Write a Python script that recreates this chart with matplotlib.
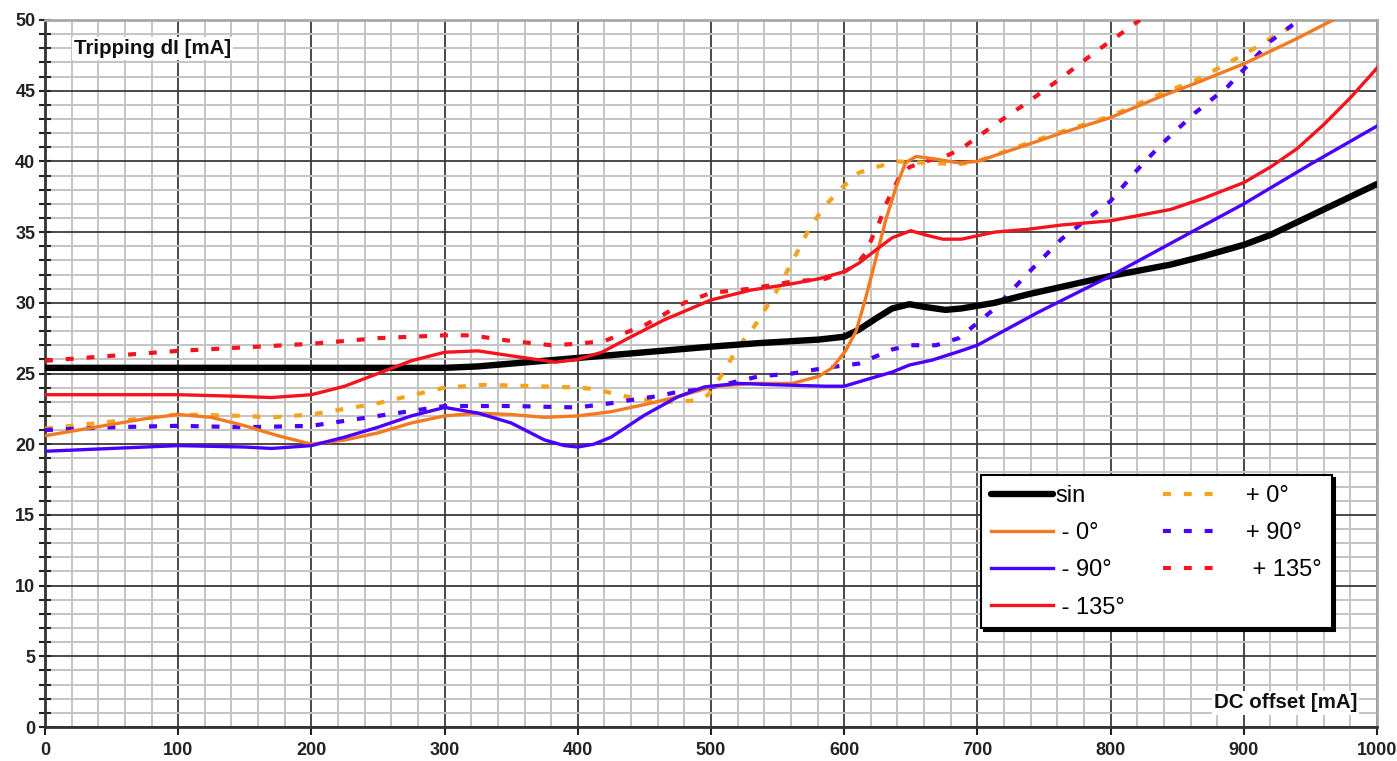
import matplotlib
matplotlib.use('Agg')
import matplotlib.pyplot as plt
from matplotlib.ticker import MultipleLocator

plt.rcParams['font.family'] = ['Liberation Sans', 'DejaVu Sans']

# ---- data ----
sin_x = [0, 100, 200, 300, 325, 350, 400, 450, 500, 536, 581, 600, 611, 624, 636, 649, 661, 676,
         688, 713, 738, 800, 845, 870, 900, 920, 940, 960, 980, 1000]
sin_y = [25.4, 25.4, 25.4, 25.4, 25.5, 25.7, 26.1, 26.5, 26.9, 27.15, 27.4, 27.6, 28.1, 28.9,
         29.6, 29.9, 29.7, 29.5, 29.6, 30.0, 30.6, 31.9, 32.7, 33.3, 34.1, 34.8, 35.7, 36.6,
         37.5, 38.4]

m0_x = [0, 25, 50, 75, 100, 125, 150, 175, 200, 225, 250, 275, 300, 325, 350, 375, 400, 425,
        450, 475, 500, 530, 561, 581, 591, 601, 609, 616, 624, 631, 639, 646, 654, 666, 686, 700,
        738, 763, 800, 838, 863, 900, 938, 967]
m0_y = [20.6, 21.0, 21.4, 21.8, 22.1, 21.9, 21.3, 20.6, 20.0, 20.3, 20.8, 21.5, 22.0, 22.2,
        22.1, 21.9, 22.0, 22.3, 22.8, 23.35, 24.05, 24.3, 24.3, 24.8, 25.4, 26.6, 28.0, 30.3,
        33.2, 35.8, 38.2, 39.9, 40.35, 40.2, 39.9, 40.0, 41.2, 42.0, 43.1, 44.6, 45.5, 46.9,
        48.6, 50.0]

m90_x = [0, 50, 100, 150, 170, 200, 225, 250, 275, 300, 325, 350, 375, 390, 400, 412, 425, 450,
         475, 495, 520, 550, 586, 600, 616, 636, 649, 666, 686, 700, 745, 800, 845, 900, 950, 1000]
m90_y = [19.5, 19.7, 19.9, 19.8, 19.7, 19.9, 20.5, 21.2, 22.0, 22.6, 22.2, 21.5, 20.3, 19.9,
         19.8, 20.0, 20.5, 22.05, 23.35, 24.05, 24.3, 24.2, 24.1, 24.1, 24.55, 25.1, 25.6,
         25.95, 26.55, 27.0, 29.3, 31.9, 34.2, 37.0, 39.8, 42.5]

m135_x = [0, 50, 100, 140, 170, 200, 225, 250, 275, 300, 325, 350, 383, 400, 418, 438, 465, 500,
          530, 561, 581, 600, 611, 624, 636, 650, 661, 674, 688, 713, 738, 763, 800, 845, 870, 900,
          920, 940, 960, 980, 1000]
m135_y = [23.5, 23.5, 23.5, 23.4, 23.3, 23.5, 24.1, 25.0, 25.9, 26.5, 26.6, 26.25, 25.8, 26.0,
          26.5, 27.5, 28.8, 30.2, 30.9, 31.35, 31.7, 32.2, 32.8, 33.75, 34.6, 35.1, 34.8, 34.5,
          34.5, 35.0, 35.2, 35.5, 35.8, 36.6, 37.4, 38.5, 39.6, 40.9, 42.6, 44.5, 46.6]

p0_x = [0, 50, 100, 150, 170, 200, 250, 300, 330, 370, 400, 413, 435, 460, 475, 490, 498, 508,
        520, 533, 549, 561, 574, 586, 599, 611, 624, 640, 660, 686, 700, 738, 763, 800, 838, 863,
        895, 908, 920, 935, 945]
p0_y = [21.1, 21.6, 22.1, 22.0, 21.9, 22.1, 22.9, 24.0, 24.2, 24.1, 24.0, 23.9, 23.4, 23.0,
        23.0, 23.1, 23.5, 24.9, 26.8, 28.4, 30.8, 32.9, 35.3, 36.9, 38.2, 39.2, 39.6, 40.0, 39.9,
        39.8, 40.0, 41.3, 42.1, 43.2, 44.8, 45.7, 47.3, 48.0, 48.7, 49.5, 50.1]

p90_x = [0, 50, 100, 150, 200, 250, 300, 350, 400, 425, 445, 460, 475, 495, 536, 561, 586, 611,
         636, 649, 669, 686, 699, 713, 738, 763, 800, 818, 838, 863, 888, 900, 920, 943]
p90_y = [21.0, 21.2, 21.3, 21.2, 21.3, 22.0, 22.7, 22.7, 22.6, 22.9, 23.2, 23.4, 23.7, 23.9,
         24.8, 25.0, 25.4, 25.7, 26.7, 27.0, 27.0, 27.5, 28.5, 29.6, 32.1, 34.5, 37.2, 39.2, 41.2,
         43.4, 45.3, 46.5, 48.5, 50.1]

p135_x = [0, 100, 200, 250, 300, 320, 350, 380, 400, 420, 450, 480, 500, 530, 561, 586, 600, 609,
          616, 621, 626, 631, 636, 641, 649, 661, 676, 688, 713, 738, 763, 788, 822]
p135_y = [25.9, 26.6, 27.1, 27.5, 27.7, 27.7, 27.3, 27.0, 27.1, 27.3, 28.4, 30.0, 30.7, 31.0,
          31.5, 31.7, 32.2, 32.7, 33.5, 34.6, 35.6, 36.9, 37.9, 38.8, 39.6, 40.0, 40.35, 40.9,
          42.6, 44.2, 45.9, 47.7, 50.0]

labels = ['sin', ' - 0°', ' - 90°', ' - 135°', '   + 0°', '   + 90°', '    + 135°']
colors = ['#000000', '#F47A22', '#4A00FF', '#F5141E', '#F5A21E', '#4A00FF', '#F5141E']

x_ticks = list(range(0, 1001, 100))
y_ticks = list(range(0, 51, 5))

# ---- figure ----
fig = plt.figure(figsize=(13.97, 7.61), dpi=100)
ax = fig.add_axes([45 / 1397, 1 - 727 / 761, 1332 / 1397, 707 / 761])
ax.set_xlim(0, 1000)
ax.set_ylim(0, 50)

ax.xaxis.set_minor_locator(MultipleLocator(20))
ax.yaxis.set_minor_locator(MultipleLocator(1))
ax.set_xticks(x_ticks)
ax.set_yticks(y_ticks)

ax.grid(which='minor', color='#c4c4c4', linewidth=1.4)
ax.grid(which='major', color='#3a3a3a', linewidth=1.3)
ax.set_axisbelow(True)

ax.tick_params(axis='x', which='major', direction='out', length=6, width=1.5, pad=5,
               labelsize=13, colors='#222222')
ax.tick_params(axis='x', which='minor', length=0)
ax.tick_params(axis='y', which='both', direction='inout', length=8, width=1.5, pad=3,
               labelsize=13, colors='#222222')
for lab in ax.get_xticklabels() + ax.get_yticklabels():
    lab.set_fontweight('bold')

for side in ['left', 'bottom']:
    ax.spines[side].set_color('#333333')
    ax.spines[side].set_linewidth(2)
for side in ['top', 'right']:
    ax.spines[side].set_color('#a8a8a8')
    ax.spines[side].set_linewidth(2)

dash = (0, (1.9, 3.1))
h_sin, = ax.plot(sin_x, sin_y, color=colors[0], lw=4.6, solid_capstyle='round',
                 solid_joinstyle='round', zorder=5)
h_m0, = ax.plot(m0_x, m0_y, color=colors[1], lw=2.4, solid_joinstyle='round', zorder=6)
h_m90, = ax.plot(m90_x, m90_y, color=colors[2], lw=2.4, solid_joinstyle='round', zorder=6)
h_m135, = ax.plot(m135_x, m135_y, color=colors[3], lw=2.4, solid_joinstyle='round', zorder=6)
h_p0, = ax.plot(p0_x, p0_y, color=colors[4], lw=3.0, linestyle=dash, zorder=4)
h_p90, = ax.plot(p90_x, p90_y, color=colors[5], lw=3.0, linestyle=dash, zorder=4)
h_p135, = ax.plot(p135_x, p135_y, color=colors[6], lw=3.0, linestyle=dash, zorder=4)

handles = [h_sin, h_m0, h_m90, h_m135, h_p0, h_p90, h_p135]
leg = ax.legend(handles, labels, ncol=2, loc='upper left', bbox_to_anchor=(0.703, 0.356),
                borderaxespad=0, fontsize=17, frameon=True, fancybox=False,
                shadow={'color': 'black', 'alpha': 1.0}, handlelength=2.6, handletextpad=0.1,
                columnspacing=1.6, labelspacing=0.64, borderpad=0.42)
leg.get_frame().set_edgecolor('black')
leg.get_frame().set_linewidth(1.5)
leg.set_zorder(10)

ax.text(22, 48.0, 'Tripping dI [mA]', fontsize=14.8, fontweight='bold', color='#111111',
        ha='left', va='center', zorder=8,
        bbox=dict(facecolor='white', edgecolor='none', pad=1.5))
ax.text(985, 1.7, 'DC offset [mA]', fontsize=14.8, fontweight='bold', color='#111111',
        ha='right', va='center', zorder=8,
        bbox=dict(facecolor='white', edgecolor='none', pad=1.5))

fig.savefig('out.png', dpi=100, facecolor='white')
